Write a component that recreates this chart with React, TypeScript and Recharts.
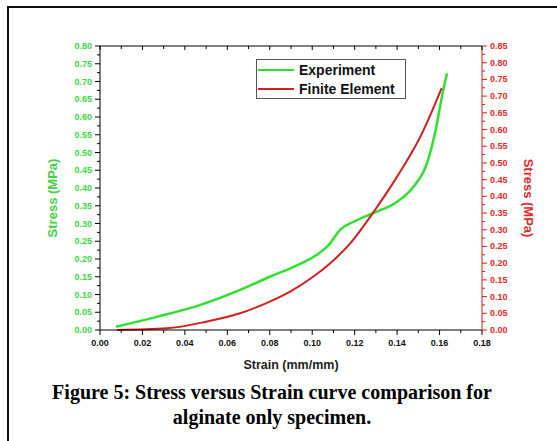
import React from "react";
import { LineChart, Line, XAxis, YAxis } from "recharts";

// Experiment (left axis)
const expStrain = [0.0075, 0.0267, 0.047, 0.066, 0.08, 0.0912, 0.102, 0.1077, 0.1132, 0.1195, 0.129, 0.14, 0.1478, 0.1541, 0.1588, 0.1611, 0.1635];
const expStress = [0.009, 0.037, 0.07, 0.113, 0.15, 0.178, 0.211, 0.239, 0.282, 0.305, 0.33, 0.361, 0.404, 0.47, 0.582, 0.657, 0.723];

// Finite element (right axis)
const feStrain = [0.008, 0.0315, 0.05, 0.066, 0.08, 0.0896, 0.1006, 0.1085, 0.118, 0.129, 0.14, 0.151, 0.161];
const feStress = [0, 0.005, 0.025, 0.05, 0.085, 0.115, 0.16, 0.2, 0.26, 0.354, 0.459, 0.579, 0.724];

const xTicks = [0, 0.01, 0.02, 0.03, 0.04, 0.05, 0.06, 0.07, 0.08, 0.09, 0.1, 0.11, 0.12, 0.13, 0.14, 0.15, 0.16, 0.17, 0.18];
const leftTicks = [
  0, 0.025, 0.05, 0.075, 0.1, 0.125, 0.15, 0.175, 0.2, 0.225, 0.25, 0.275, 0.3, 0.325, 0.35, 0.375, 0.4,
  0.425, 0.45, 0.475, 0.5, 0.525, 0.55, 0.575, 0.6, 0.625, 0.65, 0.675, 0.7, 0.725, 0.75, 0.775, 0.8,
];
const rightTicks = [...leftTicks, 0.825, 0.85];

const seriesNames = ["Experiment", "Finite Element"];

const expData = expStrain.map((s, i) => ({ strain: s, stress: expStress[i] }));
const feData = feStrain.map((s, i) => ({ strain: s, stress: feStress[i] }));

const GREEN = "#2fe02f";
const GREEN_TXT = "#3fd43f";
const RED = "#d11f1f";
const RED_TXT = "#e0282a";
const FONT = "'Liberation Sans', Arial, sans-serif";

const isMajorY = (v: number) => Math.round(v * 1000) % 50 === 0;
const isMajorX = (v: number) => Math.round(v * 1000) % 20 === 0;

function LeftTick({ x, y, payload }: any) {
  const major = isMajorY(payload.value);
  return (
    <g>
      <line x1={x} x2={x - (major ? 5 : 3)} y1={y} y2={y} stroke="#000" />
      {major && (
        <text x={x - 8} y={y} dy={3} textAnchor="end" fontSize={9} fontWeight="bold" fill={GREEN_TXT} fontFamily={FONT}>
          {payload.value.toFixed(2)}
        </text>
      )}
    </g>
  );
}

function RightTick({ x, y, payload }: any) {
  const major = isMajorY(payload.value);
  return (
    <g>
      <line x1={x} x2={x + (major ? 5 : 3)} y1={y} y2={y} stroke={RED} />
      {major && (
        <text x={x + 8} y={y} dy={3} textAnchor="start" fontSize={9} fontWeight="bold" fill={RED_TXT} fontFamily={FONT}>
          {payload.value.toFixed(2)}
        </text>
      )}
    </g>
  );
}

function BottomTick({ x, y, payload }: any) {
  const major = isMajorX(payload.value);
  return (
    <g>
      <line x1={x} x2={x} y1={y} y2={y + (major ? 5 : 3)} stroke="#000" />
      {major && (
        <text x={x} y={y + 16} textAnchor="middle" fontSize={9} fontWeight="bold" fill="#111" fontFamily={FONT}>
          {payload.value.toFixed(2)}
        </text>
      )}
    </g>
  );
}

function TopTick({ x, y, payload }: any) {
  const major = isMajorX(payload.value);
  return <line x1={x} x2={x} y1={y} y2={y + (major ? 4 : 3)} stroke="#000" />;
}

function LegendBox() {
  const colors = [GREEN, RED];
  return (
    <div style={{ position: "absolute", left: 256, top: 59, border: "1px solid #555", width: 148, height: 38, background: "#fff" }}>
      {seriesNames.map((name, i) => (
        <div key={name} style={{ display: "flex", alignItems: "center", height: 19 }}>
          <div style={{ width: 36, height: 0, borderTop: `2px solid ${colors[i]}`, marginLeft: 1, marginRight: 5 }} />
          <span style={{ fontFamily: FONT, fontWeight: "bold", fontSize: 14, color: "#111" }}>{name}</span>
        </div>
      ))}
    </div>
  );
}

export default function App() {
  return (
    <div style={{ position: "absolute", left: 0, top: 0, width: 557, height: 441, background: "#fff", overflow: "hidden" }}>
      {/* figure frame, only top and left visible */}
      <div style={{ position: "absolute", left: 7, top: 6, width: 600, height: 500, borderLeft: "2px solid #111", borderTop: "2px solid #111" }} />
      <LineChart width={557} height={441} margin={{ top: 26, right: 25, bottom: 81, left: 50 }}>
        <XAxis
          xAxisId="bottom"
          dataKey="strain"
          type="number"
          domain={[0, 0.18]}
          ticks={xTicks}
          interval={0}
          allowDataOverflow
          height={30}
          tickSize={0}
          tickMargin={0}
          tickLine={false}
          tick={<BottomTick />}
          stroke="#000"
          label={{
            content: ({ viewBox }: any) => (
              <text x={viewBox.x + viewBox.width / 2} y={viewBox.y + 39} textAnchor="middle" fontSize={12.5} fontWeight="bold" fill="#222" fontFamily={FONT}>
                Strain (mm/mm)
              </text>
            ),
          }}
        />
        <XAxis
          xAxisId="top"
          orientation="top"
          dataKey="strain"
          type="number"
          domain={[0, 0.18]}
          ticks={xTicks}
          interval={0}
          allowDataOverflow
          height={20}
          tickSize={0}
          tickMargin={0}
          tickLine={false}
          tick={<TopTick />}
          stroke="#000"
        />
        <YAxis
          yAxisId="left"
          type="number"
          domain={[0, 0.8]}
          ticks={leftTicks}
          interval={0}
          width={50}
          tickSize={0}
          tickMargin={0}
          tickLine={false}
          tick={<LeftTick />}
          stroke="#000"
          label={{
            content: ({ viewBox }: any) => {
              const cx = viewBox.x + 4;
              const cy = viewBox.y + viewBox.height / 2 + 10;
              return (
                <text x={cx} y={cy} transform={`rotate(-90 ${cx} ${cy})`} textAnchor="middle" dominantBaseline="middle" fontSize={13} fontWeight="bold" fill={GREEN_TXT} fontFamily={FONT}>
                  Stress (MPa)
                </text>
              );
            },
          }}
        />
        <YAxis
          yAxisId="right"
          orientation="right"
          type="number"
          domain={[0, 0.85]}
          ticks={rightTicks}
          interval={0}
          width={50}
          tickSize={0}
          tickMargin={0}
          tickLine={false}
          tick={<RightTick />}
          stroke={RED}
          label={{
            content: ({ viewBox }: any) => {
              const cx = viewBox.x + 45;
              const cy = viewBox.y + viewBox.height / 2 + 10;
              return (
                <text x={cx} y={cy} transform={`rotate(90 ${cx} ${cy})`} textAnchor="middle" dominantBaseline="middle" fontSize={13} fontWeight="bold" fill={RED_TXT} fontFamily={FONT}>
                  Stress (MPa)
                </text>
              );
            },
          }}
        />
        {/* invisible series so the top frame axis is drawn */}
        <Line
          data={expData}
          xAxisId="top"
          yAxisId="left"
          dataKey="stress"
          stroke="none"
          strokeOpacity={0}
          dot={false}
          activeDot={false}
          legendType="none"
          isAnimationActive={false}
        />
        <Line
          data={expData}
          xAxisId="bottom"
          yAxisId="left"
          dataKey="stress"
          name={seriesNames[0]}
          type="monotone"
          stroke={GREEN}
          strokeWidth={2.5}
          dot={false}
          isAnimationActive={false}
        />
        <Line
          data={feData}
          xAxisId="bottom"
          yAxisId="right"
          dataKey="stress"
          name={seriesNames[1]}
          type="monotone"
          stroke={RED}
          strokeWidth={2}
          dot={false}
          isAnimationActive={false}
        />
      </LineChart>
      <LegendBox />
      <div
        style={{
          position: "absolute",
          left: 0,
          width: 544,
          top: 380,
          textAlign: "center",
          fontFamily: "'Liberation Serif', 'Times New Roman', serif",
          fontWeight: "bold",
          fontSize: 20,
          lineHeight: "25px",
          color: "#000",
        }}
      >
        Figure 5: Stress versus Strain curve comparison for
        <br />
        alginate only specimen.
      </div>
    </div>
  );
}
